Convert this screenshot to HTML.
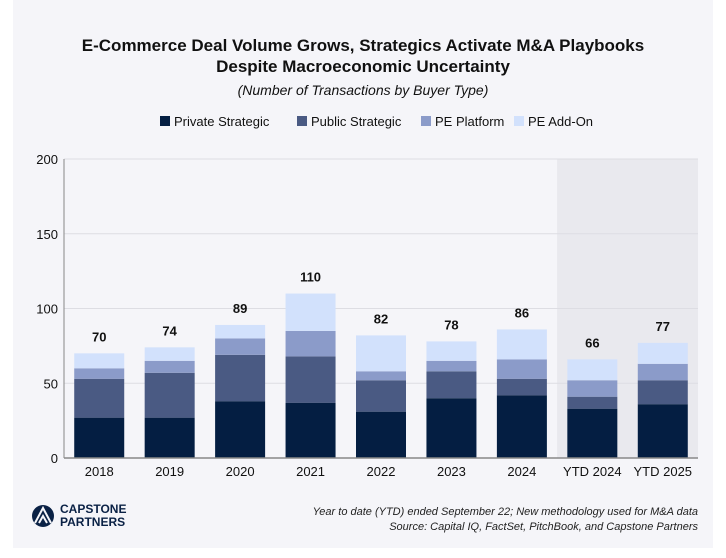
<!DOCTYPE html>
<html><head><meta charset="utf-8"><style>
body{margin:0;background:#fff;font-family:"Liberation Sans",sans-serif;}
#card{position:absolute;left:13px;top:0;width:700px;height:548px;background:#f5f5f9;}
svg{position:absolute;left:0;top:0}
</style></head><body>
<div id="card"></div>
<svg id="chart" width="726" height="558">
<text x="363" y="51" text-anchor="middle" font-size="17" font-weight="bold" fill="#111">E-Commerce Deal Volume Grows, Strategics Activate M&amp;A Playbooks</text>
<text x="363" y="72" text-anchor="middle" font-size="17" font-weight="bold" fill="#111">Despite Macroeconomic Uncertainty</text>
<text x="363" y="95" text-anchor="middle" font-size="14" font-style="italic" fill="#111">(Number of Transactions by Buyer Type)</text>
<g id="legend"></g>
<g id="plot"></g>
<g>
<circle cx="43" cy="516" r="11" fill="#0a2145"/>
<path d="M35 523 L43 508 L51 523 M39 523 L43 516 L47 523" stroke="#f5f5f9" stroke-width="2" fill="none"/>
<text x="60" y="513" font-size="12" font-weight="bold" fill="#0a2145">CAPSTONE</text>
<text x="60" y="526" font-size="12" font-weight="bold" fill="#0a2145">PARTNERS</text>
</g>
<text x="698" y="515" text-anchor="end" font-size="11" font-style="italic" fill="#222">Year to date (YTD) ended September 22; New methodology used for M&amp;A data</text>
<text x="698" y="530" text-anchor="end" font-size="11" font-style="italic" fill="#222">Source: Capital IQ, FactSet, PitchBook, and Capstone Partners</text>
</svg>
<script>
const categories=["2018","2019","2020","2021","2022","2023","2024","YTD 2024","YTD 2025"];
const privateStrategic=[27,27,38,37,31,40,42,33,36];
const publicStrategic=[26,30,31,31,21,18,11,8,16];
const pePlatform=[7,8,11,17,6,7,13,11,11];
const peAddOn=[10,9,9,25,24,13,20,14,14];
const totals=[70,74,89,110,82,78,86,66,77];
const yTicks=[0,50,100,150,200];
const seriesNames=["Private Strategic","Public Strategic","PE Platform","PE Add-On"];
const colors=["#041e42","#4a5a83","#8b9bc9","#d2e1fc"];
const NS="http://www.w3.org/2000/svg";
const X0=64,X1=698,Y0=458,Y1=159;
const band=(X1-X0)/categories.length;
const y=v=>Y0-(v/200)*(Y0-Y1);
const xc=i=>X0+band*(i+0.5);
const plot=document.getElementById('plot');
function mk(t,a,p){const e=document.createElementNS(NS,t);for(const k in a)e.setAttribute(k,a[k]);(p||plot).appendChild(e);return e;}
// shaded YTD region
let sh=mk('rect',{x:X0+band*7,y:Y1,width:X1-(X0+band*7),height:Y0-Y1,fill:'#e9e9ee'});


yTicks.forEach(t=>{
 if(t>0){let g=mk('line',{x1:X0,x2:X1,y1:y(t),y2:y(t),stroke:'#dddde3','stroke-width':1});
 
 }
 let l=mk('text',{x:X0-6,y:y(t)+5,'text-anchor':'end','font-size':13,fill:'#111'});
 l.textContent=t;
 
 
});
const series=[privateStrategic,publicStrategic,pePlatform,peAddOn];
const keys=['private-strategic','public-strategic','pe-platform','pe-add-on'];
categories.forEach((c,i)=>{
 let acc=0;
 series.forEach((s,j)=>{
  const r=mk('rect',{x:xc(i)-25,y:y(acc+s[i]),width:50,height:y(acc)-y(acc+s[i]),fill:colors[j]});
  
  
  acc+=s[i];
 });
 const tl=mk('text',{x:xc(i),y:y(totals[i])-12,'text-anchor':'middle','font-size':13,'font-weight':'bold',fill:'#111'});
 tl.textContent=totals[i];
 
 
 const xl=mk('text',{x:xc(i),y:476,'text-anchor':'middle','font-size':13,fill:'#111'});
 xl.textContent=c;
 
 
});
let ax=mk('line',{x1:X0,x2:X0,y1:Y1,y2:Y0,stroke:'#888','stroke-width':1});


let bx=mk('line',{x1:X0,x2:X1,y1:Y0,y2:Y0,stroke:'#888','stroke-width':1.5});


const lg=document.getElementById('legend');
const lx=[160,297,421,514];
seriesNames.forEach((n,j)=>{
 const r=mk('rect',{x:lx[j],y:116,width:10,height:10,fill:colors[j]},lg);
 
 
 const t=mk('text',{x:lx[j]+14,y:126,'font-size':13,fill:'#111'},lg);
 t.textContent=n;
 
 
});
</script>
</body></html>
